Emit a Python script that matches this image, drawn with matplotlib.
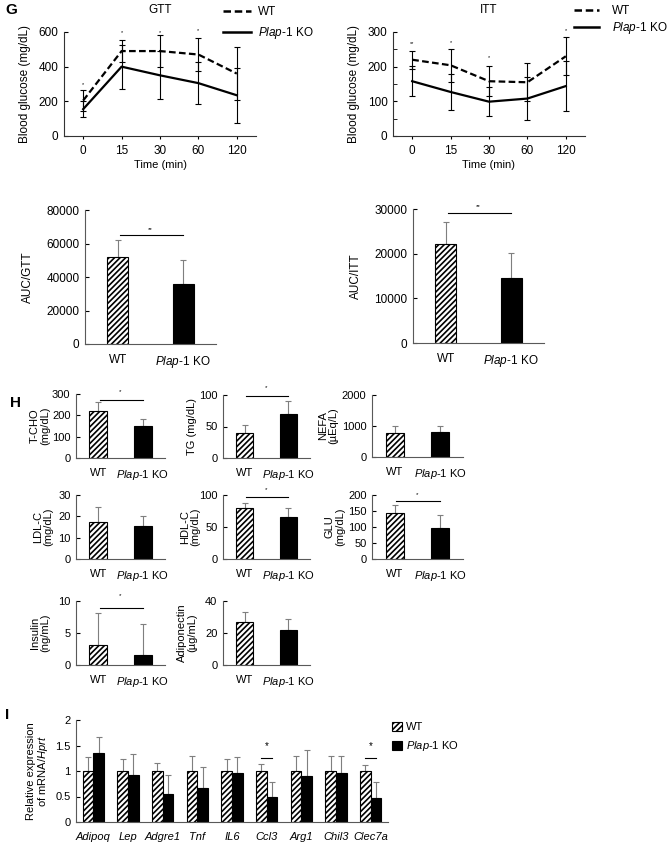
import numpy as np
import matplotlib
matplotlib.use("Agg")
import matplotlib.pyplot as plt
from matplotlib.ticker import MultipleLocator
from matplotlib.lines import Line2D

plt.rcParams['font.family'] = ['Liberation Sans', 'DejaVu Sans']
plt.rcParams['mathtext.fontset'] = 'custom'
plt.rcParams['mathtext.rm'] = 'Liberation Sans'
plt.rcParams['mathtext.it'] = 'Liberation Sans:italic'
plt.rcParams['hatch.linewidth'] = 1.2

KO = r'$\mathit{Plap}$-$\mathit{1}$ KO'
groups = ['WT', KO]

# G: GTT / ITT time courses
time_labels = ['0', '15', '30', '60', '120']
gtt_wt = [205, 490, 490, 470, 360]
gtt_wt_err = [59, 65, 90, 97, 155]
gtt_ko = [155, 400, 350, 305, 235]
gtt_ko_err = [45, 127, 138, 122, 158]
gtt_sig = ['*', '*', '*', '*', '']
gtt_sig_y = [294, 596, 595, 607, 0]

itt_wt = [220, 204, 158, 155, 230]
itt_wt_err = [26, 48, 44, 55, 55]
itt_ko = [158, 127, 99, 108, 144]
itt_ko_err = [43, 52, 41, 62, 72]
itt_sig = ['**', '*', '*', '', '*']
itt_sig_y = [268, 271, 226, 0, 303]

# G: AUC
auc_gtt = [52000, 36000]
auc_gtt_err = [10000, 14000]
auc_itt = [22200, 14600]
auc_itt_err = [4800, 5600]

# H: serum parameters
tcho = [220, 151]
tcho_err = [41, 34]
tg = [40, 70]
tg_err = [13, 21]
nefa = [780, 820]
nefa_err = [220, 185]
ldl = [17.3, 15.5]
ldl_err = [6.9, 4.5]
hdl = [80, 66]
hdl_err = [7, 14]
glu = [144, 98]
glu_err = [25, 40]
insulin = [3.2, 1.5]
insulin_err = [5.0, 4.9]
adipo = [27, 22]
adipo_err = [6, 6.5]

# I: gene expression
genes = ['Adipoq', 'Lep', 'Adgre1', 'Tnf', 'IL6', 'Ccl3', 'Arg1', 'Chil3', 'Clec7a']
expr_wt = [1.0, 1.0, 1.0, 1.0, 1.0, 1.0, 1.0, 1.0, 1.0]
expr_wt_err = [0.27, 0.23, 0.16, 0.29, 0.23, 0.13, 0.30, 0.30, 0.11]
expr_ko = [1.35, 0.93, 0.55, 0.66, 0.97, 0.50, 0.91, 0.97, 0.47]
expr_ko_err = [0.31, 0.40, 0.38, 0.42, 0.30, 0.28, 0.51, 0.33, 0.31]
expr_sig = ['', '', '', '', '', '*', '', '', '*']

W, H = 668, 843
fig = plt.figure(figsize=(W / 100, H / 100), dpi=100)
HATCH = '//////'
GRAY = '#595959'
DASH = (0, (3, 1.5))


def px_axes(l, t, r, b):
    ax = fig.add_axes([l / W, 1 - b / H, (r - l) / W, (b - t) / H])
    ax.spines['top'].set_visible(False)
    ax.spines['right'].set_visible(False)
    return ax


def ylabel_px(ax, text, right_px, l, r, fs):
    ax.set_ylabel(text, fontsize=fs, linespacing=1.0)
    ax.yaxis.set_label_coords((right_px - l) / (r - l), 0.5)


def line_panel(box, title, wt, wt_err, ko, ko_err, ymax, major, minor, sig, sig_y, lab_right):
    l, t, r, b = box
    ax = px_axes(l, t, r, b)
    x = np.arange(len(time_labels))
    ax.errorbar(x, wt, yerr=wt_err, color='black', ls=DASH, lw=1.6,
                capsize=2.5, elinewidth=0.8, capthick=0.8)
    ax.errorbar(x, ko, yerr=ko_err, color='black', ls='-', lw=1.6,
                capsize=2.5, elinewidth=0.8, capthick=0.8)
    for i, s in enumerate(sig):
        if s:
            ax.text(x[i], sig_y[i], s, fontsize=4, ha='center', va='center', clip_on=False)
    ax.set_xlim(-0.5, 4.5)
    ax.set_ylim(0, ymax)
    ax.yaxis.set_major_locator(MultipleLocator(major))
    ax.yaxis.set_minor_locator(MultipleLocator(minor))
    ax.set_xticks(x)
    ax.set_xticklabels(time_labels)
    ax.tick_params(axis='y', which='both', direction='in', length=3, labelsize=8.5, pad=4)
    ax.tick_params(axis='x', direction='out', length=2.5, labelsize=8.5, pad=4)
    for sp in ax.spines.values():
        sp.set_color('#333333')
    ax.set_xlabel('Time (min)', fontsize=8, labelpad=2)
    ylabel_px(ax, 'Blood glucose (mg/dL)', lab_right, l, r, 8.5)
    ax.set_title(title, fontsize=8.5, pad=14)
    return ax


def bar_panel(box, vals, errs, ymax, step, ylab, lab_right, fs=7.5, sig=None, sig_star='*'):
    l, t, r, b = box
    ax = px_axes(l, t, r, b)
    x = np.arange(2)
    bars = ax.bar(x, vals, width=0.4 if r - l < 100 else 0.32, color=['white', 'black'],
                  edgecolor='black', linewidth=0.8, zorder=2)
    bars[0].set_hatch(HATCH)
    ax.errorbar(x, vals, yerr=[[0, 0], errs], fmt='none', ecolor='#7f7f7f',
                elinewidth=0.8, capsize=2, capthick=0.8, zorder=1)
    if sig is not None:
        ax.plot([0.03, 1.0], [sig[0], sig[0]], color='black', lw=0.8, clip_on=False)
        ax.text(0.5, sig[1], sig_star, fontsize=4.5, ha='center', va='center', clip_on=False)
    ax.set_xlim(-0.5, 1.5)
    ax.set_ylim(0, ymax)
    ax.yaxis.set_major_locator(MultipleLocator(step))
    ax.set_xticks(x)
    ax.set_xticklabels(groups)
    ax.tick_params(axis='y', direction='in', length=3, labelsize=fs + 0.5, pad=4)
    ax.tick_params(axis='x', length=0, labelsize=fs + 0.5, pad=7)
    for sp in ax.spines.values():
        sp.set_color(GRAY)
    ylabel_px(ax, ylab, lab_right, l, r, fs + 0.5)
    return ax


legend_lines = [Line2D([], [], color='black', ls=DASH, lw=1.8),
                Line2D([], [], color='black', ls='-', lw=1.8)]

# --- G ---
ax = line_panel((64, 32, 256, 136), 'GTT', gtt_wt, gtt_wt_err, gtt_ko, gtt_ko_err,
                600, 200, 200, gtt_sig, gtt_sig_y, 31)
ax.legend(legend_lines, groups, loc='upper left', bbox_to_anchor=(223 / W, 1 - 6 / H),
          bbox_transform=fig.transFigure, frameon=False, fontsize=8.5, handlelength=2.4,
          handletextpad=0.6, labelspacing=0.6, borderaxespad=0, borderpad=0)
ax = line_panel((393, 32, 585, 136), 'ITT', itt_wt, itt_wt_err, itt_ko, itt_ko_err,
                300, 100, 50, itt_sig, itt_sig_y, 360)
ax.legend(legend_lines, groups, loc='upper left', bbox_to_anchor=(574 / W, 1 - 5 / H),
          bbox_transform=fig.transFigure, frameon=False, fontsize=8.5, handlelength=2.1,
          handletextpad=1.1, labelspacing=0.25, borderaxespad=0, borderpad=0)

bar_panel((85, 210, 216, 344), auc_gtt, auc_gtt_err, 80000, 20000, 'AUC/GTT', 34, fs=8,
          sig=(65000, 68500), sig_star='**')
bar_panel((413, 209, 544, 343), auc_itt, auc_itt_err, 30000, 10000, 'AUC/ITT', 362, fs=8,
          sig=(29000, 30500), sig_star='**')

# --- H ---
bar_panel((76, 394, 165, 458), tcho, tcho_err, 300, 100, 'T-CHO\n(mg/dL)', 50, sig=(272, 311))
bar_panel((223, 395, 310, 458), tg, tg_err, 100, 50, 'TG (mg/dL)', 197, sig=(99, 112))
bar_panel((372, 395, 463, 457), nefa, nefa_err, 2000, 1000, 'NEFA\n(\u00b5Eq/L)', 338)
bar_panel((76, 495, 165, 559), ldl, ldl_err, 30, 10, 'LDL-C\n(mg/dL)', 53)
bar_panel((223, 495, 310, 559), hdl, hdl_err, 100, 50, 'HDL-C\n(mg/dL)', 200, sig=(97, 109))
bar_panel((372, 495, 463, 559), glu, glu_err, 200, 50, 'GLU\n(mg/dL)', 345, sig=(180, 201))
bar_panel((76, 601, 165, 665), insulin, insulin_err, 10, 5, 'Insulin\n(ng/mL)', 50, sig=(8.9, 10.9))
bar_panel((223, 601, 310, 665), adipo, adipo_err, 40, 20, 'Adiponectin\n(\u00b5g/mL)', 197)

# --- I ---
l, t, r, b = 76, 720, 388, 822
ax = px_axes(l, t, r, b)
x = np.arange(len(genes))
bw = 0.31
ax.bar(x - bw / 2, expr_wt, width=bw, color='white', edgecolor='black', linewidth=0.8,
       hatch=HATCH, label='WT', zorder=2)
ax.bar(x + bw / 2, expr_ko, width=bw, color='black', edgecolor='black', linewidth=0.8,
       label=KO, zorder=2)
ax.errorbar(x - bw / 2, expr_wt, yerr=[np.zeros(len(genes)), expr_wt_err], fmt='none',
            ecolor='#7f7f7f', elinewidth=0.8, capsize=2, capthick=0.8, zorder=1)
ax.errorbar(x + bw / 2, expr_ko, yerr=[np.zeros(len(genes)), expr_ko_err], fmt='none',
            ecolor='#7f7f7f', elinewidth=0.8, capsize=2, capthick=0.8, zorder=1)
for i, s in enumerate(expr_sig):
    if s:
        ax.plot([i - bw / 2, i + bw / 2], [1.26, 1.26], color='black', lw=0.8)
        ax.text(i, 1.48, s, fontsize=7, ha='center', va='center')
ax.set_xlim(-0.5, len(genes) - 0.5)
ax.set_ylim(0, 2)
ax.set_yticks([0, 0.5, 1, 1.5, 2])
ax.set_yticklabels(['0', '0.5', '1', '1.5', '2'])
ax.set_xticks(x)
ax.set_xticklabels(genes, fontstyle='italic')
ax.tick_params(axis='y', direction='in', length=3, labelsize=8, pad=4)
ax.tick_params(axis='x', length=0, labelsize=8, pad=7)
for sp in ax.spines.values():
    sp.set_color(GRAY)
ylabel_px(ax, 'Relative expression\nof mRNA/$\\mathit{Hprt}$', 50, l, r, 8)
ax.legend(loc='upper left', bbox_to_anchor=(392 / W, 1 - 722 / H), bbox_transform=fig.transFigure,
          frameon=False, fontsize=8, handlelength=0.9, handleheight=0.9, handletextpad=0.4,
          labelspacing=0.6, borderaxespad=0, borderpad=0)

# panel letters
fig.text(5 / W, 1 - 10 / H, 'G', fontsize=11, fontweight='bold', va='center')
fig.text(10 / W, 1 - 403 / H, 'H', fontsize=11, fontweight='bold', va='center')
fig.text(5 / W, 1 - 715 / H, 'I', fontsize=11, fontweight='bold', va='center')

fig.savefig('out.png', dpi=100)
